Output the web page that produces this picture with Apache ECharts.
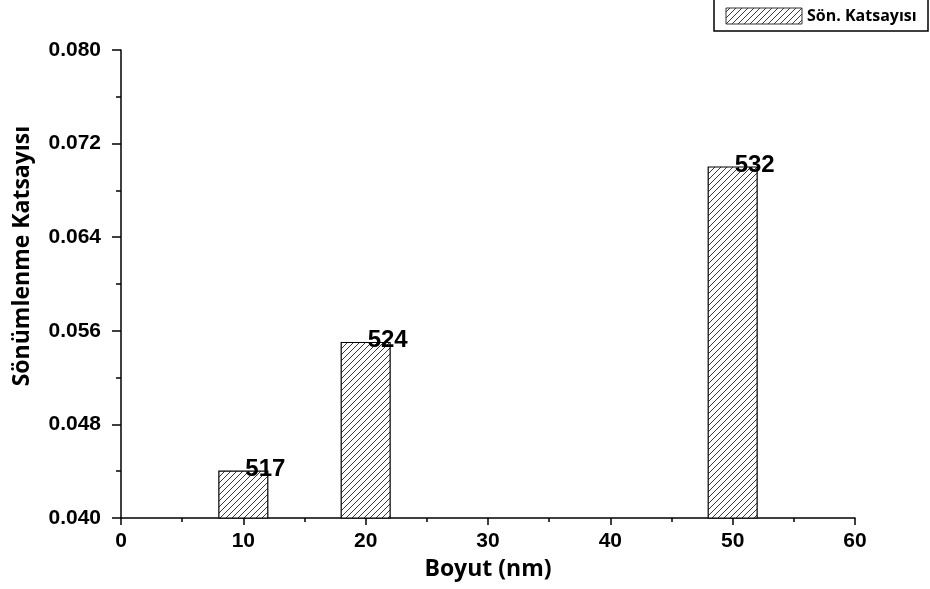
<!DOCTYPE html>
<html>
<head>
<meta charset="utf-8">
<script src="https://cdn.jsdelivr.net/npm/echarts@6/dist/echarts.min.js"></script>
<style>html,body{margin:0;padding:0;background:#fff;}#c{width:930px;height:589px;}</style>
</head>
<body>
<div id="c"></div>
<script>
var sizes = [10, 20, 50];
var values = [0.044, 0.055, 0.070];
var peakLabels = ['517', '524', '532'];
var seriesName = 'Sön. Katsayısı';
var yTitle = 'Sönümlenme Katsayısı';
var xTitle = 'Boyut (nm)';

function makeHatch() {
  var s = 6;
  var cv = document.createElement('canvas');
  cv.width = s; cv.height = s;
  var ctx = cv.getContext('2d');
  ctx.fillStyle = '#fff';
  ctx.fillRect(0, 0, s, s);
  ctx.strokeStyle = '#3a3a3a';
  ctx.lineWidth = 1;
  ctx.beginPath();
  ctx.moveTo(-1, s + 1); ctx.lineTo(s + 1, -1);
  ctx.moveTo(-1, 1); ctx.lineTo(1, -1);
  ctx.moveTo(s - 1, s + 1); ctx.lineTo(s + 1, s - 1);
  ctx.stroke();
  return cv;
}
var hatch = {image: makeHatch(), repeat: 'repeat'};

var data = sizes.map(function (x, i) { return [x, values[i]]; });

var chart = echarts.init(document.getElementById('c'));
chart.setOption({
  animation: false,
  grid: {left: 121, right: 75, top: 50, bottom: 71, outerBoundsMode: 'none', containLabel: false},
  xAxis: {
    type: 'value', min: 0, max: 60, interval: 10,
    name: xTitle, nameLocation: 'middle', nameGap: 40,
    nameTextStyle: {fontFamily: 'Open Sans', fontWeight: 'bold', fontSize: 23, color: '#000'},
    axisLine: {show: true, onZero: false, lineStyle: {color: '#000', width: 1.5}},
    axisTick: {show: true, inside: false, length: 7, lineStyle: {color: '#000', width: 1.5}},
    minorTick: {show: true, splitNumber: 2, length: 4, lineStyle: {color: '#000', width: 1.5}},
    axisLabel: {margin: 13, fontFamily: 'Liberation Sans', fontWeight: 'bold', fontSize: 21, color: '#000'},
    splitLine: {show: false}
  },
  yAxis: {
    type: 'value', min: 0.04, max: 0.08, interval: 0.008,
    axisLine: {show: true, onZero: false, lineStyle: {color: '#000', width: 1.5}},
    axisTick: {show: true, inside: false, length: 9, lineStyle: {color: '#000', width: 1.5}},
    minorTick: {show: true, splitNumber: 2, length: 5, lineStyle: {color: '#000', width: 1.5}},
    axisLabel: {margin: 20, fontFamily: 'Liberation Sans', fontWeight: 'bold', fontSize: 21, color: '#000',
      formatter: function (v) { return v.toFixed(3); }},
    splitLine: {show: false}
  },
  series: [{
    type: 'custom',
    name: seriesName,
    data: data,
    renderItem: function (params, api) {
      var x = api.value(0), y = api.value(1);
      var p1 = api.coord([x - 2, y]);
      var p2 = api.coord([x + 2, 0.04]);
      var c = api.coord([x, y]);
      return {
        type: 'group',
        children: [{
          type: 'rect',
          shape: {x: p1[0], y: p1[1], width: p2[0] - p1[0], height: p2[1] - p1[1]},
          style: {fill: hatch, stroke: '#000', lineWidth: 1.2}
        }, {
          type: 'text',
          x: c[0] + 2, y: c[1] - 2,
          style: {text: peakLabels[params.dataIndex], font: 'bold 24px "Liberation Sans", Arial', fill: '#000',
            textAlign: 'left', textVerticalAlign: 'middle'}
        }]
      };
    }
  }],
  graphic: [
    {type: 'text', x: 22, y: 256, rotation: Math.PI / 2,
      style: {text: yTitle, font: 'bold 23px "Open Sans"', fill: '#000', textAlign: 'center', textVerticalAlign: 'middle'}},
    {type: 'rect', shape: {x: 714, y: -1, width: 214, height: 32}, style: {fill: '#fff', stroke: '#000', lineWidth: 1.5}},
    {type: 'rect', shape: {x: 726, y: 8, width: 76, height: 16}, style: {fill: hatch, stroke: '#333', lineWidth: 1}},
    {type: 'text', x: 807, y: 16, style: {text: seriesName, font: 'bold 16px "Open Sans"', fill: '#000', textVerticalAlign: 'middle'}}
  ]
});
</script>
</body>
</html>
